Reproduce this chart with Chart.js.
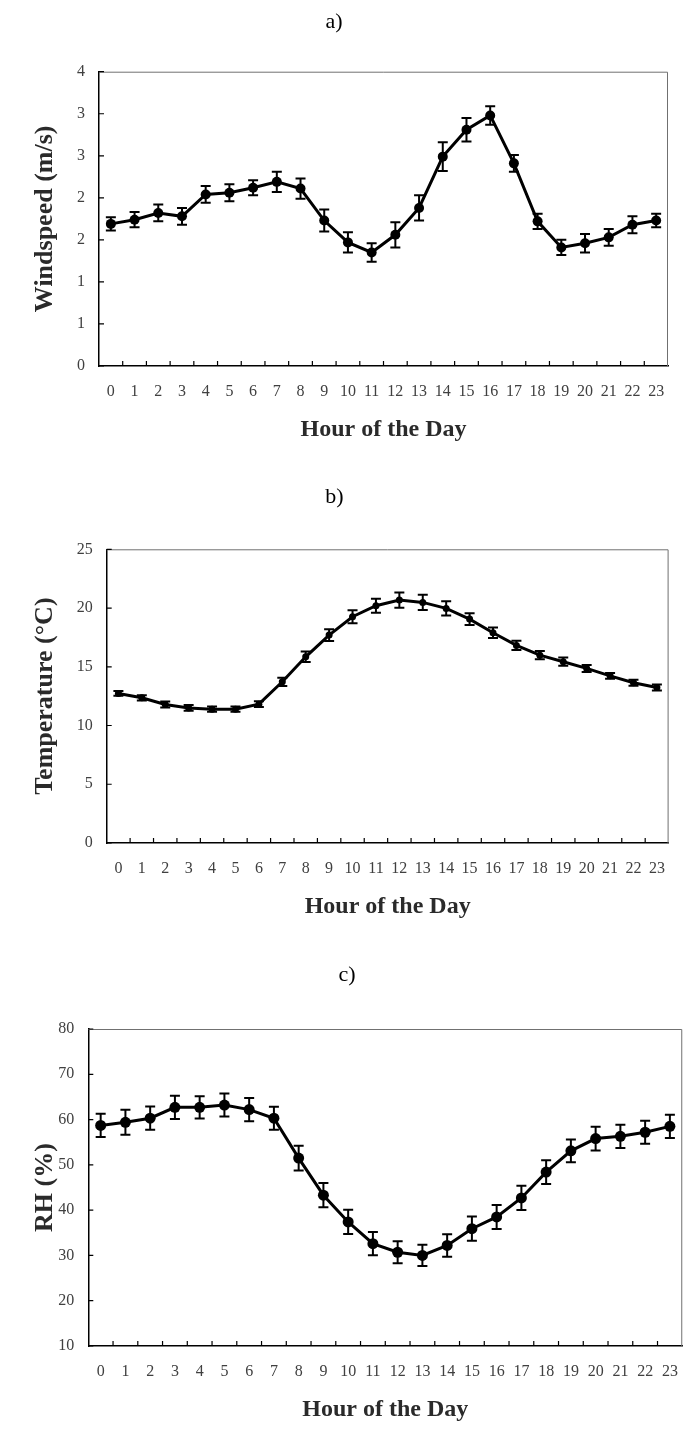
<!DOCTYPE html>
<html>
<head>
<meta charset="utf-8">
<script src="https://cdn.jsdelivr.net/npm/chart.js@4.4.1/dist/chart.umd.min.js"></script>
<style>
  body { margin: 0; background: #fff; width: 694px; height: 1432px; overflow: hidden; position: relative; }
  canvas { position: absolute; left: 0; }
</style>
</head>
<body>
<canvas id="wind" width="694" height="470" style="top:0px"></canvas>
<canvas id="temp" width="694" height="480" style="top:470px"></canvas>
<canvas id="rh" width="694" height="482" style="top:950px"></canvas>
<script>
const hours = ['0','1','2','3','4','5','6','7','8','9','10','11','12','13','14','15','16','17','18','19','20','21','22','23']

// a) wind speed, m/s (axis labels are 0..3.5 rounded to whole numbers, as in the original)
const windspeed = [1.69, 1.74, 1.82, 1.78, 2.04, 2.06, 2.12, 2.19, 2.11, 1.73, 1.47, 1.35, 1.56, 1.88, 2.49, 2.81, 2.98, 2.41, 1.72, 1.41, 1.46, 1.53, 1.68, 1.73]
const windspeedErr = [0.08, 0.09, 0.10, 0.10, 0.10, 0.10, 0.09, 0.12, 0.12, 0.13, 0.12, 0.11, 0.15, 0.15, 0.17, 0.14, 0.11, 0.10, 0.09, 0.09, 0.11, 0.10, 0.10, 0.08]
const windTickLabels = ['0', '1', '1', '2', '2', '3', '3', '4']

// b) temperature, °C
const temperature = [12.73, 12.36, 11.79, 11.5, 11.39, 11.39, 11.82, 13.72, 15.85, 17.7, 19.26, 20.2, 20.68, 20.48, 19.97, 19.06, 17.9, 16.82, 15.99, 15.43, 14.86, 14.23, 13.64, 13.24]
const temperatureErr = [0.2, 0.22, 0.25, 0.25, 0.22, 0.22, 0.25, 0.35, 0.45, 0.5, 0.55, 0.6, 0.65, 0.65, 0.6, 0.5, 0.45, 0.4, 0.35, 0.35, 0.3, 0.25, 0.25, 0.25]

// c) relative humidity, %
const humidity = [58.7, 59.4, 60.3, 62.7, 62.7, 63.2, 62.2, 60.3, 51.5, 43.3, 37.4, 32.6, 30.7, 30.0, 32.2, 35.9, 38.5, 42.7, 48.4, 53.1, 55.8, 56.3, 57.2, 58.5]
const humidityErr = [2.57, 2.75, 2.57, 2.57, 2.46, 2.53, 2.57, 2.53, 2.72, 2.68, 2.68, 2.57, 2.42, 2.35, 2.5, 2.68, 2.64, 2.68, 2.64, 2.5, 2.64, 2.57, 2.53, 2.57]

const serif = "'Times New Roman', 'Liberation Serif', serif"

// error bars, inward tick marks and the top/right frame lines
const extras = {
  id: 'extras',
  afterDatasetsDraw(chart) {
    const ctx = chart.ctx
    const x = chart.scales.x
    const y = chart.scales.y
    const area = chart.chartArea
    ctx.save()

    // frame top + right
    ctx.strokeStyle = '#707070'
    ctx.lineWidth = 1
    ctx.beginPath()
    ctx.moveTo(area.left, area.top + 0.5)
    ctx.lineTo(area.right - 0.5, area.top + 0.5)
    ctx.lineTo(area.right - 0.5, area.bottom)
    ctx.stroke()

    // inward ticks
    ctx.strokeStyle = '#000'
    ctx.lineWidth = 1.2
    ctx.beginPath()
    for (let i = 1; i < hours.length; i++) {
      const px = (x.getPixelForValue(i - 1) + x.getPixelForValue(i)) / 2
      ctx.moveTo(px, area.bottom)
      ctx.lineTo(px, area.bottom - 5)
    }
    y.ticks.forEach(t => {
      const py = y.getPixelForValue(t.value)
      ctx.moveTo(area.left, py)
      ctx.lineTo(area.left + 5, py)
    })
    ctx.stroke()

    // error bars
    chart.data.datasets.forEach((ds, di) => {
      const meta = chart.getDatasetMeta(di)
      ctx.strokeStyle = '#000'
      ctx.lineWidth = 2
      ctx.beginPath()
      meta.data.forEach((pt, i) => {
        const top = y.getPixelForValue(ds.data[i] + ds.errors[i])
        const bot = y.getPixelForValue(ds.data[i] - ds.errors[i])
        ctx.moveTo(pt.x, top)
        ctx.lineTo(pt.x, bot)
        ctx.moveTo(pt.x - 5, top)
        ctx.lineTo(pt.x + 5, top)
        ctx.moveTo(pt.x - 5, bot)
        ctx.lineTo(pt.x + 5, bot)
      })
      ctx.stroke()
    })
    ctx.restore()
  }
}

function makeChart(id, opts) {
  return new Chart(document.getElementById(id), {
    type: 'line',
    data: {
      labels: hours,
      datasets: [{
        data: opts.values,
        errors: opts.errors,
        borderColor: '#000',
        backgroundColor: '#000',
        borderWidth: 3,
        pointRadius: opts.pointRadius,
        pointBackgroundColor: '#000',
        pointBorderWidth: 0,
        lineTension: 0,
        fill: false
      }]
    },
    options: {
      responsive: false,
      animation: false,
      layout: { padding: { left: 0, right: opts.padRight, top: 0, bottom: 0 } },
      plugins: {
        legend: { display: false },
        tooltip: { enabled: false },
        title: {
          display: true,
          text: opts.title,
          color: '#000',
          font: { family: serif, size: 22, weight: 'normal' },
          padding: { top: opts.titleTop, bottom: opts.titleBottom }
        }
      },
      scales: {
        x: {
          offset: true,
          grid: { display: false, drawTicks: false },
          border: { display: true, color: '#000', width: 1.5 },
          ticks: { color: '#404040', padding: 16, maxRotation: 0, autoSkip: false, font: { family: serif, size: 16 } },
          title: {
            display: true,
            text: 'Hour of the Day',
            color: '#2a2a2a',
            font: { family: serif, size: 24, weight: 'bold' },
            padding: { top: 0, bottom: opts.xTitleBottom }
          },
          afterFit: s => { s.height = opts.xHeight }
        },
        y: {
          min: opts.min,
          max: opts.max,
          grid: { display: false, drawTicks: false },
          border: { display: true, color: '#000', width: 1.5 },
          ticks: {
            stepSize: opts.step,
            color: '#404040',
            padding: 14,
            font: { family: serif, size: 16 },
            callback: opts.tickLabel
          },
          title: {
            display: true,
            text: opts.yTitle,
            color: '#2a2a2a',
            font: { family: serif, size: 26, weight: 'bold' },
            padding: { top: opts.yTitleLeft, bottom: 0 }
          },
          afterFit: s => { s.width = opts.yWidth }
        }
      }
    },
    plugins: [extras]
  })
}

makeChart('wind', {
  title: 'a)', values: windspeed, errors: windspeedErr, pointRadius: 5,
  min: 0, max: 3.5, step: 0.5, tickLabel: (v, i) => windTickLabels[i],
  yTitle: 'Windspeed (m/s)',
  titleTop: 8.8, titleBottom: 36.5, xHeight: 104, xTitleBottom: 25.6,
  yWidth: 99, yTitleLeft: 30, padRight: 26
})

makeChart('temp', {
  title: 'b)', values: temperature, errors: temperatureErr, pointRadius: 3.5,
  min: 0, max: 25, step: 5, tickLabel: v => v,
  yTitle: 'Temperature (°C)',
  titleTop: 13.8, titleBottom: 39.1, xHeight: 107, xTitleBottom: 28.6,
  yWidth: 106.7, yTitleLeft: 30, padRight: 25.4
})

makeChart('rh', {
  title: 'c)', values: humidity, errors: humidityErr, pointRadius: 5.5,
  min: 10, max: 80, step: 10, tickLabel: v => v,
  yTitle: 'RH (%)',
  titleTop: 11.8, titleBottom: 40.8, xHeight: 86, xTitleBottom: 7.6,
  yWidth: 88.3, yTitleLeft: 30, padRight: 0
})
</script>
</body>
</html>
